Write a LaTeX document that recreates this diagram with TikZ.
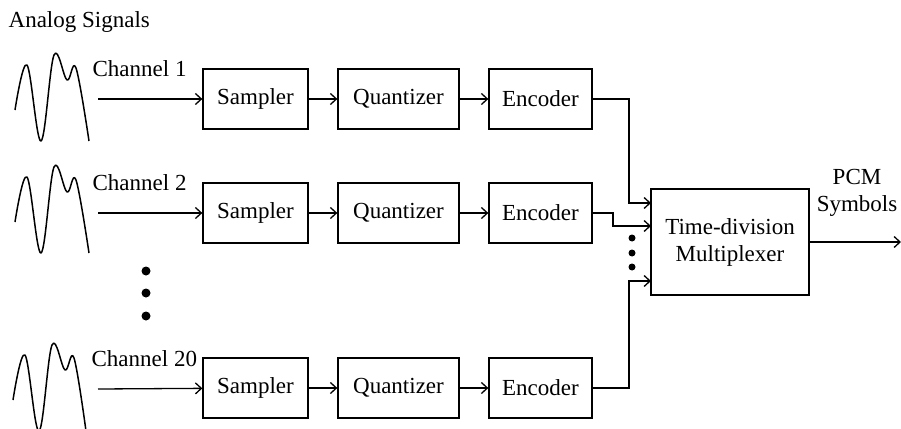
\documentclass[tikz,border=0pt]{standalone}
\usepackage{fontspec}
\setmainfont{Liberation Serif}
\usetikzlibrary{arrows.meta}

\begin{document}
\begin{tikzpicture}[x=1pt, y=-1pt, >={Straight Barb[length=6pt,width=11pt]}, line width=1.3pt,
    txt/.style={inner sep=0pt, font=\fontsize{23}{27}\selectfont},
    blk/.style={txt, draw, minimum height=60pt},
    wave/.style={line width=1.5pt, line join=round}]
    \useasboundingbox (0,0) rectangle (901,428);

    \node[txt, anchor=west] (title) at (8,22) {Analog Signals};

    % the three channels
    \node[txt, anchor=west] (c1) at (92,69) {Channel 1};
    \node[txt, anchor=west] (c2) at (92,183) {Channel 2};
    \node[txt, anchor=west] (c20) at (91,359) {Channel 20};

    \coordinate (in1) at (98,99);
    \coordinate (in2) at (98,213);
    \coordinate (in20) at (98,389);

    \node[blk, minimum width=105pt] (s1) at (255.5,99) {Sampler};
    \node[blk, minimum width=121pt] (q1) at (398.5,99) {Quantizer};
    \node[blk, minimum width=103pt] (e1) at (540.5,99) {Encoder};

    \node[blk, minimum width=105pt] (s2) at (255.5,213) {Sampler};
    \node[blk, minimum width=121pt] (q2) at (398.5,213) {Quantizer};
    \node[blk, minimum width=103pt] (e2) at (540.5,213) {Encoder};

    \node[blk, minimum width=105pt] (s20) at (255.5,388) {Sampler};
    \node[blk, minimum width=121pt] (q20) at (398.5,388) {Quantizer};
    \node[blk, minimum width=103pt] (e20) at (540.5,388) {Encoder};

    \node[blk, minimum width=158pt, minimum height=106pt, align=center] (mux) at (730,242)
        {Time-division\\Multiplexer};
    \node[txt, align=center] (pcm) at (857,193) {PCM\\Symbols};
    \coordinate (out) at (901,242);

    \coordinate (m1) at (651,203);
    \coordinate (m2) at (651,226);
    \coordinate (m20) at (651,281);

    % analog waveforms
    \draw[wave] plot[smooth, tension=0.6] coordinates
        {(15,110) (27,65) (41,141) (54,55) (67,80) (76,68) (89,141)};
    \draw[wave, shift={(0,112)}] plot[smooth, tension=0.6] coordinates
        {(15,110) (27,65) (41,141) (54,55) (67,80) (76,68) (89,141)};
    \draw[wave, shift={(-2,290)}] plot[smooth, tension=0.6] coordinates
        {(15,110) (27,65) (41,141) (54,55) (67,80) (76,68) (88,141)};

    \path[->] (in1) edge (s1)
        (s1) edge (q1)
        (q1) edge (e1)
        (in2) edge (s2)
        (s2) edge (q2)
        (q2) edge (e2)
        (in20) edge (s20)
        (s20) edge (q20)
        (q20) edge (e20)
        (mux) edge (out);

    \draw[->] (e1.east) -- (629,99) |- (m1);
    \draw[->] (e2.east) -- (613,213) |- (m2);
    \draw[->] (e20.east) -- (629,388) |- (m20);

    % dots for the channels left out
    \fill (146,271) circle (4.5) (146,293) circle (4.5) (146,316) circle (4.5);
    \fill (632,238) circle (3.5) (632,253) circle (3.5) (632,267) circle (3.5);
\end{tikzpicture}
\end{document}
